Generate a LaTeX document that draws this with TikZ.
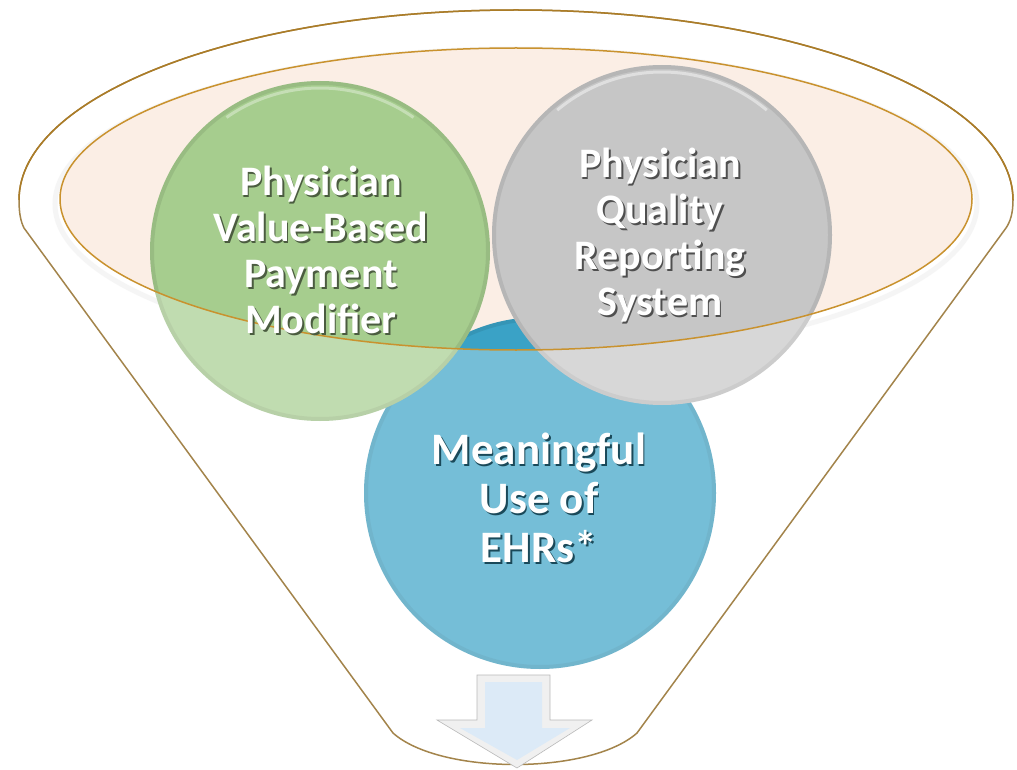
\documentclass[tikz,border=0pt]{standalone}
\usepackage{fontspec}
\setmainfont{Carlito}
\usetikzlibrary{shadings}
\definecolor{peach}{HTML}{FBEEE5}
\definecolor{rimgold}{HTML}{C9922E}
\definecolor{funnelline}{HTML}{A3844B}
\definecolor{greenc}{HTML}{A6CD8E}
\definecolor{grayc}{HTML}{C6C6C6}
\definecolor{bluec}{HTML}{3AA2C6}
\definecolor{arrowblue}{HTML}{DCEAF7}
\newcommand{\shtxt}[2]{\leavevmode\rlap{\kern1.8pt\raisebox{-1.8pt}{\color{#1}#2}}#2}
\tikzset{
  bubble/.style={circle, inner sep=0pt, minimum size=#1},
  label42/.style={text=white, font=\bfseries\fontsize{42}{46}\selectfont, align=center, inner sep=0pt},
  label45/.style={text=white, font=\bfseries\fontsize{45}{49}\selectfont, align=center, inner sep=0pt},
  rim/.style={line width=#1, black, opacity=0.08},
}
\begin{document}
\begin{tikzpicture}[x=1pt,y=-1pt]
\useasboundingbox (0,0) rectangle (1017,770);
% funnel body
\fill[white] (19,200) arc[start angle=180,end angle=360,x radius=497,y radius=190]
  .. controls (1013,214) and (1010,222) .. (1006,228) -- (637,733)
  .. controls (590,775) and (440,775) .. (393,733) -- (24,228)
  .. controls (21,222) and (19,214) .. (19,200) -- cycle;
% soft inner shadow of the rim
\draw[black!5, line width=5pt] (516,204) ellipse[x radius=461, y radius=155];
% inner ellipse
\fill[peach] (516,199) ellipse[x radius=456, y radius=151];
% circles
\node[bubble=352pt, fill=bluec] (meaning) at (540,493) {};
\draw[rim=4pt] (meaning.center) circle[radius=174];
\node[bubble=340pt, fill=greenc] (pvbm) at (320,251) {};
\draw[rim=4pt] (pvbm.center) circle[radius=168];
\draw[white, opacity=0.35, line width=3pt] (pvbm.center) ++(235:163) arc[start angle=235, end angle=305, radius=163];
\node[bubble=340pt, fill=grayc] (pqrs) at (662,235) {};
\draw[rim=4pt] (pqrs.center) circle[radius=168];
\draw[white, opacity=0.45, line width=3pt] (pqrs.center) ++(230:163) arc[start angle=230, end angle=310, radius=163];
% translucent funnel body over the circles
\fill[white, opacity=0.3, even odd rule] (19,200) arc[start angle=180,end angle=360,x radius=497,y radius=190]
  .. controls (1013,214) and (1010,222) .. (1006,228) -- (637,733)
  .. controls (590,775) and (440,775) .. (393,733) -- (24,228)
  .. controls (21,222) and (19,214) .. (19,200) -- cycle
  (516,199) ellipse[x radius=456, y radius=151];
% outlines
\draw[funnelline, line width=1.5pt] (19,200) arc[start angle=180,end angle=360,x radius=497,y radius=190]
  .. controls (1013,214) and (1010,222) .. (1006,228) -- (637,733)
  .. controls (590,775) and (440,775) .. (393,733) -- (24,228)
  .. controls (21,222) and (19,214) .. (19,200) -- cycle;
\draw[rimgold!85!black, line width=1.5pt] (19,200) arc[start angle=180,end angle=360,x radius=497,y radius=190];
\draw[rimgold, line width=1.5pt] (516,199) ellipse[x radius=456, y radius=151];
% texts
\node[label42] (pvbmt) at (321,251) {\shtxt{greenc!45!black}{Physician}\\\shtxt{greenc!45!black}{Value-Based}\\\shtxt{greenc!45!black}{Payment}\\\shtxt{greenc!45!black}{Modifier}};
\node[label42] (pqrst) at (660,236) {\shtxt{grayc!40!black}{Physician}\\\shtxt{grayc!40!black}{Quality}\\\shtxt{grayc!40!black}{Reporting}\\\shtxt{grayc!40!black}{System}};
\node[label45] (meaningt) at (539,499) {\shtxt{bluec!45!black}{Meaningful}\\\shtxt{bluec!45!black}{Use of}\\\shtxt{bluec!45!black}{EHRs*}};
% arrow
\path[fill=white!88!gray, draw=gray!55, line width=0.6pt] (477,675) -- (550,675) -- (550,720) -- (592,720) -- (517,768) -- (437,720) -- (477,720) -- cycle;
\fill[arrowblue] (485,682) -- (542,682) -- (542,728) -- (570,728) -- (517,760) -- (460,728) -- (485,728) -- cycle;
\coordinate (arrowtip) at (517,768);
\end{tikzpicture}
\end{document}
